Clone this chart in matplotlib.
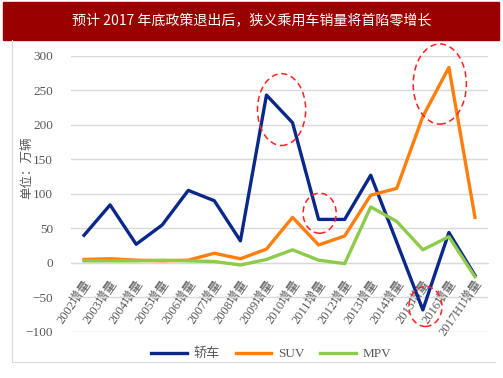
import numpy as np
import matplotlib.pyplot as plt
from matplotlib.patches import Ellipse, Rectangle
from matplotlib.lines import Line2D

years = ["2002增量", "2003增量", "2004增量", "2005增量", "2006增量", "2007增量",
         "2008增量", "2009增量", "2010增量", "2011增量", "2012增量", "2013增量",
         "2014增量", "2015增量", "2016增量", "2017H1增量"]
sedan = [40, 84, 27, 55, 105, 90, 32, 243, 203, 63, 63, 127, 30, -68, 44, -18]
suv = [5, 6, 4, 3, 4, 14, 6, 20, 66, 26, 39, 98, 108, 212, 283, 66]
mpv = [3, 3, 3, 4, 3, 2, -3, 5, 19, 4, -1, 81, 60, 19, 38, -20]

title = "预计 2017 年底政策退出后，狭义乘用车销量将首陷零增长"
ylab = "单位：万辆"

grey = "#595959"
serif = ["Liberation Serif", "Noto Sans CJK SC"]
plt.rcParams['font.family'] = serif

fig = plt.figure(figsize=(5.03, 3.78), dpi=100)

# banner
fig.patches.append(Rectangle((3/503, 1-39.5/378), 496/503, 37/378,
                             transform=fig.transFigure, color="#9B0000", zorder=0))
fig.text(0.5, 1-21/378, title, color="white", ha="center", va="center",
         fontsize=10.1, family=["Noto Sans CJK SC", "DejaVu Sans"])

# outer frame lines (left and bottom)
fig.add_artist(Line2D([12/503, 12/503], [1-40/378, 1-362/378],
                      transform=fig.transFigure, color="#D9D9D9", lw=0.8))
fig.add_artist(Line2D([12/503, 495/503], [1-362/378, 1-362/378],
                      transform=fig.transFigure, color="#D9D9D9", lw=0.8))

ax = fig.add_axes([71/503, 1-332/378, 417/503, 276.3/378])
x = np.arange(len(years))
ax.plot(x, sedan, color="#0A2889", lw=2.4, label="轿车", zorder=3)
ax.plot(x, suv, color="#FF7F0E", lw=2.4, label="SUV", zorder=3)
ax.plot(x, mpv, color="#8DCB4B", lw=2.4, label="MPV", zorder=3)

ax.set_xlim(-0.5, len(years)-0.5)
ax.set_ylim(-100, 300)
ax.set_yticks(np.arange(-100, 301, 50))
ax.grid(axis="y", color="#D9D9D9", lw=1)
ax.set_axisbelow(True)
for s in ["top", "right", "left"]:
    ax.spines[s].set_visible(False)
ax.spines["bottom"].set_position(("data", 0))
ax.spines["bottom"].set_color("#D9D9D9")
ax.tick_params(axis="y", length=0, pad=13, labelcolor=grey, labelsize=9.5)
ax.tick_params(axis="x", length=0, pad=11, labelcolor=grey)
ax.set_xticks(x)
ax.set_xticklabels(years, rotation=55, ha="right", va="top",
                   rotation_mode="anchor", fontsize=9)

fig.text(27/503, 1-168/378, ylab, rotation=90, ha="center", va="center",
         color=grey, fontsize=9, family=["Noto Sans CJK SC", "DejaVu Sans"])

# red dashed highlight circles
for cx, cy, w, h in [(7.58, 222, 1.85, 104), (9.04, 72, 1.27, 58),
                     (13.65, 259, 2.04, 116), (13.1, -63, 1.27, 58)]:
    e = Ellipse((cx, cy), w, h, fill=False, ec="#FF2020", ls=(0, (4, 2.5)),
                lw=1.1, zorder=4, clip_on=False)
    ax.add_patch(e)

leg = ax.legend(loc="center", bbox_to_anchor=(0.48, -0.08), ncol=3,
                frameon=False, fontsize=9.5, handlelength=2.7, columnspacing=1.2,
                handletextpad=0.5)
for t in leg.get_texts():
    t.set_color(grey)

fig.savefig("out.png", dpi=100)
